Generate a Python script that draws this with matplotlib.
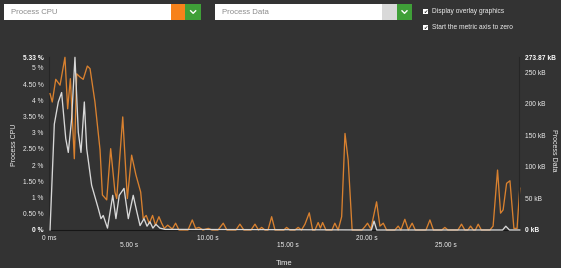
import matplotlib.pyplot as plt
from matplotlib.patches import Rectangle
from matplotlib.lines import Line2D

# seconds / % for process CPU
cpu_t = [0.04, 0.18, 0.40, 0.67, 0.98, 1.15, 1.32, 1.57, 1.72, 1.93, 2.13, 2.39, 2.56, 2.87,
         3.19, 3.34, 3.61, 3.86, 4.13, 4.24, 4.62, 4.91, 5.18, 5.45, 5.75, 5.91, 6.10, 6.29,
         6.50, 6.68, 6.90, 7.07, 7.24, 7.45, 7.74, 7.95, 8.16, 8.73, 9.00, 9.21, 9.42, 9.67,
         10.01, 10.24, 10.62, 10.95, 11.18, 11.75, 12.00, 12.25, 12.70, 12.95, 13.17, 13.37,
         13.58, 13.77, 14.00, 14.21, 14.77, 14.94, 15.15, 15.47, 15.67, 15.88, 16.10, 16.37,
         16.58, 16.73, 16.93, 17.07, 17.21, 17.42, 17.80, 17.98, 18.19, 18.41, 18.62, 18.82,
         19.07, 19.69, 19.87, 20.04, 20.25, 20.61, 20.82, 21.03, 21.24, 21.76, 21.97, 22.14,
         22.39, 22.61, 22.85, 23.05, 23.72, 23.97, 24.19, 24.72, 24.91, 25.10, 25.73, 25.96,
         26.17, 26.36, 26.53, 26.71, 26.83, 27.01, 27.21, 27.75, 27.95, 28.23, 28.42, 28.58,
         28.80, 29.01, 29.26, 29.46, 29.63]
cpu_pct = [4.21, 3.95, 4.65, 4.47, 5.33, 3.74, 4.67, 2.20, 4.82, 4.72, 4.65, 5.06, 4.98, 3.95,
           2.47, 1.08, 0.93, 2.51, 1.17, 0.97, 3.49, 0.97, 2.31, 1.70, 1.17, 0.35, 0.45, 0.20,
           0.45, 0.15, 0.41, 0.21, 0.05, 0.15, 0.03, 0.21, 0.0, 0.0, 0.31, 0.05, 0.08, 0.0,
           0.05, 0.0, 0.0, 0.21, 0.0, 0.0, 0.18, 0.0, 0.0, 0.18, 0.0, 0.08,
           0.0, 0.0, 0.41, 0.0, 0.0, 0.08, 0.0, 0.0, 0.08, 0.0, 0.18, 0.53,
           0.0, 0.0, 0.23, 0.06, 0.23, 0.0, 0.0, 0.21, 0.0, 0.41, 2.98, 2.16,
           0.0, 0.0, 0.10, 0.21, 0.03, 0.87, 0.12, 0.21, 0.0, 0.0, 0.12, 0.0,
           0.33, 0.0, 0.21, 0.0, 0.0, 0.31, 0.0, 0.0, 0.08, 0.0, 0.0, 0.18,
           0.0, 0.0, 0.12, 0.0, 0.0, 0.18, 0.0, 0.0, 0.12, 1.85, 0.52, 0.62,
           1.44, 1.52, 0.05, 0.05, 1.29]

# seconds / kB for process data
data_t = [0.04, 0.31, 0.56, 0.77, 1.03, 1.19, 1.40, 1.61, 1.82, 1.99, 2.20, 2.35, 2.66, 3.08,
          3.25, 3.39, 3.66, 3.99, 4.19, 4.40, 4.70, 4.97, 5.28, 5.48, 5.71, 5.96, 6.15, 6.33,
          6.52, 6.71, 6.96, 7.28, 20.28, 20.45, 20.62, 28.55, 28.75, 28.98, 29.63]
data_kb = [0, 168, 203, 218, 145, 123, 176, 273.87, 155, 123, 203, 129, 71, 34,
           18, 23, 3, 55, 18, 55, 66, 18, 55, 32, 7, 18, 6, 13,
           3, 9, 3, 1, 0, 14, 0, 0, 6, 0, 0]

x_ticks = [0, 5, 10, 15, 20, 25]
x_labels = ["0 ms", "5.00 s", "10.00 s", "15.00 s", "20.00 s", "25.00 s"]
cpu_ticks = [0, 0.5, 1, 1.5, 2, 2.5, 3, 3.5, 4, 4.5, 5, 5.33]
cpu_labels = ["0 %", "0.50 %", "1 %", "1.50 %", "2 %", "2.50 %", "3 %", "3.50 %",
              "4 %", "4.50 %", "5 %", "5.33 %"]
kb_ticks = [0, 50, 100, 150, 200, 250, 273.87]
kb_labels = ["0 kB", "50 kB", "100 kB", "150 kB", "200 kB", "250 kB", "273.87 kB"]

W, H = 561, 268
BG = "#333333"
ORANGE = "#d9812f"
LIGHT = "#d8d8d8"
GREEN = "#3f9f38"
TXT = "#eeeeee"

plt.rcParams['font.family'] = ['Liberation Sans', 'DejaVu Sans']

fig = plt.figure(figsize=(W / 100, H / 100), dpi=100, facecolor=BG)


def fx(x):
    return x / W


def fy(y):
    return 1 - y / H


# header widgets
def select_box(x0, x1, x2, x3, label, swatch):
    y0, y1 = 3.6, 20.4
    fig.patches.append(Rectangle((fx(x0), fy(y1)), fx(x1 - x0), (y1 - y0) / H,
                                 transform=fig.transFigure, facecolor="white", edgecolor="none"))
    fig.patches.append(Rectangle((fx(x1), fy(y1)), fx(x2 - x1), (y1 - y0) / H,
                                 transform=fig.transFigure, facecolor=swatch, edgecolor="none"))
    fig.patches.append(Rectangle((fx(x2), fy(y1)), fx(x3 - x2), (y1 - y0) / H,
                                 transform=fig.transFigure, facecolor=GREEN, edgecolor="none"))
    cx = (x2 + x3) / 2
    fig.lines.append(Line2D([fx(cx - 2.5), fx(cx), fx(cx + 2.5)], [fy(10.8), fy(13.3), fy(10.8)],
                            transform=fig.transFigure, color="white", lw=1.0))
    fig.text(fx(x0 + 7), fy(12.2), label, color="#8a8a8a", fontsize=5.6, va="center", ha="left")


select_box(3.6, 171, 185.3, 201, "Process CPU", "#f7821b")
select_box(215.4, 382, 397, 412, "Process Data", "#d9d9d9")

for yy, txt in [(11.8, "Display overlay graphics"), (27.5, "Start the metric axis to zero")]:
    fig.patches.append(Rectangle((fx(422.6), fy(yy + 2.6)), fx(5.2), 5.2 / H,
                                 transform=fig.transFigure, facecolor="white", edgecolor="none"))
    fig.text(fx(425.2), fy(yy), "\u2714", color="#222222", fontsize=3.6,
             ha="center", va="center", family=['DejaVu Sans'])
    fig.text(fx(432), fy(yy), txt, color=TXT, fontsize=4.8, va="center", ha="left")

# chart
ax = fig.add_axes([fx(49.4), fy(230), fx(519.3 - 49.4), (230 - 57.3) / H])
ax.set_facecolor(BG)
ax.plot(cpu_t, cpu_pct, color=ORANGE, lw=0.95, clip_on=False, zorder=3)
ax.set_xlim(0, 29.6)
ax.set_ylim(0, 5.33)

ax2 = ax.twinx()
ax2.plot(data_t, data_kb, color=LIGHT, lw=0.95, clip_on=False, zorder=3)
ax2.set_ylim(0, 273.87)

for a in (ax, ax2):
    a.spines["top"].set_visible(False)
ax.spines["left"].set_color("#262626")
ax.spines["bottom"].set_color("#161616")
ax.spines["right"].set_visible(False)
ax2.spines["left"].set_visible(False)
ax2.spines["bottom"].set_visible(False)
ax2.spines["right"].set_color("#262626")

ax.set_yticks(cpu_ticks)
ax.set_yticklabels(cpu_labels)
ax2.set_yticks(kb_ticks)
ax2.set_yticklabels(kb_labels)
ax.tick_params(axis="y", length=0, pad=4, labelsize=4.8, labelcolor=TXT)
ax2.tick_params(axis="y", length=0, pad=4, labelsize=4.8, labelcolor=TXT)
for lab in (ax.get_yticklabels()[0], ax.get_yticklabels()[-1],
            ax2.get_yticklabels()[0], ax2.get_yticklabels()[-1]):
    lab.set_fontweight("bold")
    lab.set_color("white")

# staggered x labels
ax.set_xticks([])
for i, (t, lab) in enumerate(zip(x_ticks, x_labels)):
    yoff = -0.052 if i % 2 == 0 else -0.089
    ax.text(t, yoff, lab, transform=ax.get_xaxis_transform(), ha="center", va="center",
            fontsize=4.8, color=TXT)

fig.text(fx(15), fy(145), "Process CPU", rotation=90, ha="center", va="center",
         fontsize=5, color=TXT)
fig.text(fx(554), fy(150), "Process Data", rotation=-90, ha="center", va="center",
         fontsize=5, color=TXT)
fig.text(fx(284.3), fy(263.5), "Time", ha="center", va="center", fontsize=5.5, color=TXT)

fig.savefig("out.png", dpi=100, facecolor=BG)
